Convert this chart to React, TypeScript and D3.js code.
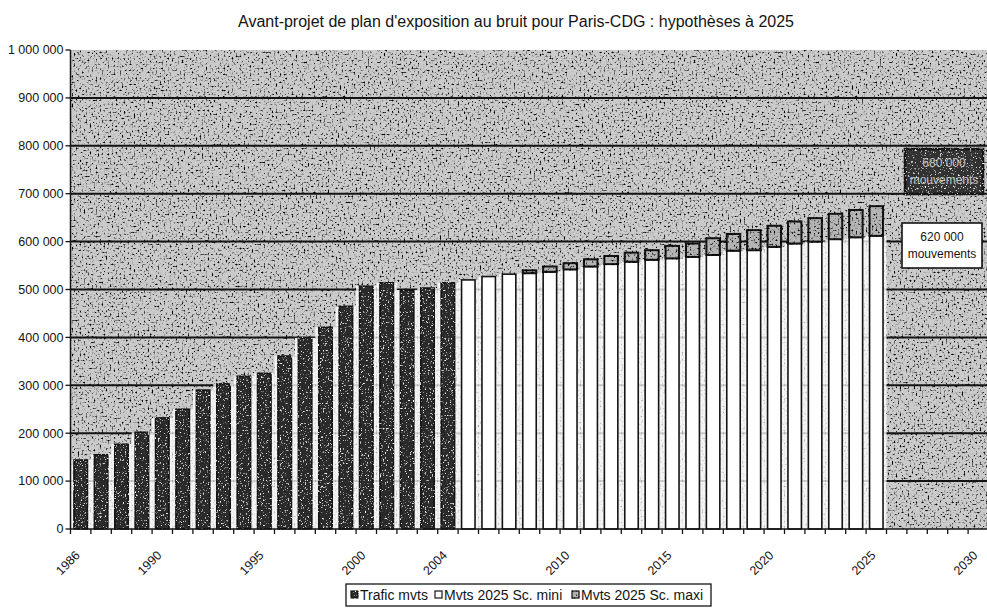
// @ts-nocheck
import React, { useEffect, useRef } from "react";
import * as d3 from "d3";

const title =
  "Avant-projet de plan d'exposition au bruit pour Paris-CDG : hypothèses à 2025";

// every category on the x axis
const years = [
  1986, 1987, 1988, 1989, 1990, 1991, 1992, 1993, 1994, 1995, 1996, 1997,
  1998, 1999, 2000, 2001, 2002, 2003, 2004, 2005, 2006, 2007, 2008, 2009,
  2010, 2011, 2012, 2013, 2014, 2015, 2016, 2017, 2018, 2019, 2020, 2021,
  2022, 2023, 2024, 2025, 2026, 2027, 2028, 2029, 2030,
];
const labelYears = [1986, 1990, 1995, 2000, 2004, 2010, 2015, 2020, 2025, 2030];

// observed traffic (movements)
const trafficYears = [
  1986, 1987, 1988, 1989, 1990, 1991, 1992, 1993, 1994, 1995, 1996, 1997,
  1998, 1999, 2000, 2001, 2002, 2003, 2004,
];
const trafficValues = [
  144000, 155000, 177000, 202000, 232000, 250000, 290000, 303000, 319000,
  325000, 361000, 399000, 421000, 465000, 507000, 514000, 499000, 503000,
  514000,
];

// 2025 scenarios
const scenarioYears = [
  2005, 2006, 2007, 2008, 2009, 2010, 2011, 2012, 2013, 2014, 2015, 2016,
  2017, 2018, 2019, 2020, 2021, 2022, 2023, 2024, 2025,
];
const miniValues = [
  520000, 527000, 532000, 534000, 537000, 542000, 548000, 553000, 558000,
  562000, 565000, 568000, 572000, 581000, 582000, 589000, 596000, 600000,
  605000, 609000, 612000,
];
const maxiValues = [
  520000, 527000, 532000, 540000, 548000, 555000, 563000, 570000, 577000,
  582000, 591000, 596000, 607000, 616000, 624000, 633000, 642000, 649000,
  658000, 666000, 674000,
];

const yTicks = [
  0, 100000, 200000, 300000, 400000, 500000, 600000, 700000, 800000, 900000,
  1000000,
];
const legendLabels = ["Trafic mvts", "Mvts 2025 Sc. mini", "Mvts 2025 Sc. maxi"];
const maxiNote = ["680 000", "mouvements"];
const miniNote = ["620 000", "mouvements"];

const FONT = "'Liberation Sans', Arial, Helvetica, sans-serif";
const INK = "#141414";

const App = () => {
  const svgRef = useRef();

  useEffect(() => {
    const width = 987;
    const height = 612;
    const left = 70.5;
    const right = 988.5;
    const top = 50;
    const bottom = 529;

    const svg = d3.select(svgRef.current);
    svg.selectAll("*").remove();
    svg.attr("width", width).attr("height", height);

    const defs = svg.append("defs");
    // photocopy speckle: dots of one colour laid over the fill
    const speckle = (id, c, slope, intercept, freq, seed) => {
      const f = defs
        .append("filter")
        .attr("id", id)
        .attr("x", "-5%")
        .attr("y", "-5%")
        .attr("width", "110%")
        .attr("height", "110%");
      f.append("feTurbulence")
        .attr("type", "fractalNoise")
        .attr("baseFrequency", freq)
        .attr("numOctaves", 3)
        .attr("seed", seed)
        .attr("result", "noise");
      f.append("feColorMatrix")
        .attr("in", "noise")
        .attr("type", "matrix")
        .attr(
          "values",
          `0 0 0 0 ${c} 0 0 0 0 ${c} 0 0 0 0 ${c} ${slope} 0 0 0 ${intercept}`,
        )
        .attr("result", "dots");
      f.append("feComposite")
        .attr("in", "dots")
        .attr("in2", "SourceGraphic")
        .attr("operator", "in")
        .attr("result", "clipped");
      const m = f.append("feMerge");
      m.append("feMergeNode").attr("in", "SourceGraphic");
      m.append("feMergeNode").attr("in", "clipped");
    };
    speckle("darkSpeck", 0, 4.5, -2.3, 0.5, 4);
    speckle("lightSpeck", 1, 5, -3.1, 0.6, 9);

    const x = d3
      .scaleBand()
      .domain(years)
      .range([left, right])
      .paddingInner(0.34)
      .paddingOuter(0.17);
    const y = d3.scaleLinear().domain([0, 1000000]).range([bottom, top]);
    const step = x.step();
    const bw = x.bandwidth();

    const fmt = d3.formatLocale({
      decimal: ",",
      thousands: " ",
      grouping: [3],
      currency: ["", ""],
    }).format(",d");

    // plot area background
    svg
      .append("rect")
      .attr("x", left)
      .attr("y", top)
      .attr("width", right - left)
      .attr("height", bottom - top)
      .attr("fill", "#cbcbcb")
      .attr("filter", "url(#darkSpeck)");

    // gridlines
    svg
      .append("g")
      .selectAll("line")
      .data(yTicks.filter((d) => d > 0 && d < 1000000))
      .join("line")
      .attr("x1", left)
      .attr("x2", right)
      .attr("y1", (d) => y(d))
      .attr("y2", (d) => y(d))
      .attr("stroke", INK)
      .attr("stroke-width", 2);

    // pale zone below the bar tops
    const under = [
      ...trafficYears.map((yr, i) => ({ yr, v: trafficValues[i] })),
      ...scenarioYears.map((yr, i) => ({ yr, v: miniValues[i] })),
    ];
    svg
      .append("g")
      .selectAll("rect")
      .data(under)
      .join("rect")
      .attr("x", (d) => x(d.yr) - (step - bw) / 2)
      .attr("y", (d) => y(d.v))
      .attr("width", step)
      .attr("height", (d) => bottom - y(d.v))
      .attr("fill", "#fff")
      .attr("opacity", 0.8);

    // observed traffic bars
    svg
      .append("g")
      .attr("filter", "url(#lightSpeck)")
      .selectAll("rect")
      .data(trafficYears)
      .join("rect")
      .attr("x", (d) => x(d))
      .attr("y", (d, i) => y(trafficValues[i]))
      .attr("width", bw)
      .attr("height", (d, i) => bottom - y(trafficValues[i]))
      .attr("fill", "#2a2a2a")
      .attr("stroke", INK)
      .attr("stroke-width", 1.6);

    // minimum scenario bars
    svg
      .append("g")
      .selectAll("rect")
      .data(scenarioYears)
      .join("rect")
      .attr("x", (d) => x(d))
      .attr("y", (d, i) => y(miniValues[i]))
      .attr("width", bw)
      .attr("height", (d, i) => bottom - y(miniValues[i]))
      .attr("fill", "#fff")
      .attr("stroke", INK)
      .attr("stroke-width", 1.6);

    // maximum scenario increment
    const extra = scenarioYears
      .map((yr, i) => ({ yr, lo: miniValues[i], hi: maxiValues[i] }))
      .filter((d) => d.hi > d.lo);
    svg
      .append("g")
      .attr("filter", "url(#darkSpeck)")
      .selectAll("rect")
      .data(extra)
      .join("rect")
      .attr("x", (d) => x(d.yr))
      .attr("y", (d) => y(d.hi))
      .attr("width", bw)
      .attr("height", (d) => y(d.lo) - y(d.hi))
      .attr("fill", "#b5b5b5")
      .attr("stroke", INK)
      .attr("stroke-width", 2);

    // y axis
    const yAxis = svg.append("g");
    yAxis
      .append("line")
      .attr("x1", left)
      .attr("x2", left)
      .attr("y1", top)
      .attr("y2", bottom)
      .attr("stroke", INK)
      .attr("stroke-width", 1.5);
    yAxis
      .selectAll("line.tick")
      .data(yTicks)
      .join("line")
      .attr("class", "tick")
      .attr("x1", left - 5)
      .attr("x2", left)
      .attr("y1", (d) => y(d))
      .attr("y2", (d) => y(d))
      .attr("stroke", INK)
      .attr("stroke-width", 1.3);
    yAxis
      .selectAll("text")
      .data(yTicks)
      .join("text")
      .attr("x", left - 7)
      .attr("y", (d) => y(d))
      .attr("dy", "0.35em")
      .attr("text-anchor", "end")
      .style("font-family", FONT)
      .style("font-size", "12.5px")
      .style("fill", INK)
      .text((d) => fmt(d));

    // x axis
    const xAxis = svg.append("g");
    xAxis
      .append("line")
      .attr("x1", left)
      .attr("x2", right)
      .attr("y1", bottom)
      .attr("y2", bottom)
      .attr("stroke", INK)
      .attr("stroke-width", 1.6);
    xAxis
      .selectAll("line.tick")
      .data(years)
      .join("line")
      .attr("class", "tick")
      .attr("x1", (d) => x(d) - (step - bw) / 2)
      .attr("x2", (d) => x(d) - (step - bw) / 2)
      .attr("y1", bottom)
      .attr("y2", bottom + 5)
      .attr("stroke", INK)
      .attr("stroke-width", 1.3);
    xAxis
      .selectAll("text")
      .data(labelYears)
      .join("text")
      .attr(
        "transform",
        (d) => `translate(${x(d) + bw / 2},${bottom + 27}) rotate(-45)`,
      )
      .attr("text-anchor", "end")
      .style("font-family", FONT)
      .style("font-size", "12.5px")
      .style("fill", INK)
      .text((d) => d);

    // scenario notes on the right
    const note = (bx, by, w, h, lines, dark) => {
      const g = svg.append("g");
      g.append("rect")
        .attr("x", bx)
        .attr("y", by)
        .attr("width", w)
        .attr("height", h)
        .attr("fill", dark ? "#333" : "#fff")
        .attr("stroke", INK)
        .attr("stroke-width", dark ? 2.5 : 1.6)
        .attr("filter", dark ? "url(#lightSpeck)" : null);
      g.selectAll("text")
        .data(lines)
        .join("text")
        .attr("x", bx + w / 2)
        .attr("y", (d, i) => by + h / 2 + (i - 0.5) * 17)
        .attr("dy", "0.35em")
        .attr("text-anchor", "middle")
        .style("font-family", FONT)
        .style("font-size", "12px")
        .style("fill", dark ? "#c4c4c4" : INK)
        .text((d) => d);
    };
    note(905, 149, 78, 45, maxiNote, true);
    note(902, 223, 80, 45, miniNote, false);

    // title
    svg
      .append("text")
      .attr("x", 516)
      .attr("y", 27)
      .attr("text-anchor", "middle")
      .style("font-family", FONT)
      .style("font-size", "16px")
      .style("fill", INK)
      .text(title);

    // legend
    const legend = svg.append("g");
    legend
      .append("rect")
      .attr("x", 346)
      .attr("y", 584)
      .attr("width", 365)
      .attr("height", 22)
      .attr("fill", "#fff")
      .attr("stroke", INK)
      .attr("stroke-width", 1.3);
    const itemX = [351, 435, 572];
    const swatch = [
      { fill: "#2a2a2a", filter: "url(#lightSpeck)" },
      { fill: "#fff", filter: null },
      { fill: "#b5b5b5", filter: "url(#darkSpeck)" },
    ];
    legendLabels.forEach((label, i) => {
      legend
        .append("rect")
        .attr("x", itemX[i])
        .attr("y", 591)
        .attr("width", 7)
        .attr("height", 7)
        .attr("fill", swatch[i].fill)
        .attr("stroke", INK)
        .attr("stroke-width", 1.2)
        .attr("filter", swatch[i].filter);
      legend
        .append("text")
        .attr("x", itemX[i] + 9)
        .attr("y", 600)
        .style("font-family", FONT)
        .style("font-size", "14px")
        .style("fill", INK)
        .text(label);
    });
  }, []);

  return (
    <svg
      ref={svgRef}
      style={{ position: "absolute", left: 0, top: 0, background: "#fff" }}
    ></svg>
  );
};

export default App;
